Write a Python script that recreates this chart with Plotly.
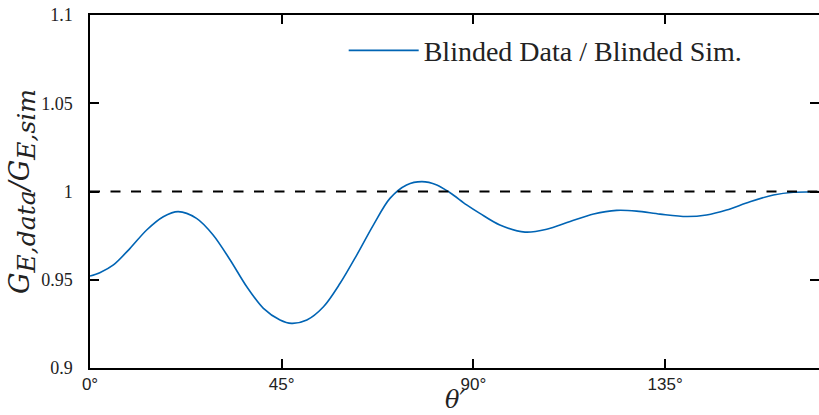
import plotly.graph_objects as go

# Data
theta_deg = [0, 2.3, 5.5, 9.4, 13.3, 17.2, 20.7, 25.0, 28.9, 32.9, 36.8, 40.7, 44.6,
             47.3, 50.9, 54.8, 58.7, 62.6, 66.5, 70.4, 74.3, 77.9, 81.4, 84.5, 88.4,
             91.5, 96.2, 102.1, 107.2, 112.7, 118.2, 123.6, 128.3, 133.8, 140.0,
             144.7, 149.4, 154.9, 160.4, 165.1, 170.6, 171.1]
ratio = [0.9521, 0.9540, 0.9584, 0.9678, 0.9782, 0.9857, 0.9886, 0.9848, 0.9754,
         0.9612, 0.9460, 0.9338, 0.9272, 0.9253, 0.9272, 0.9347, 0.9480, 0.9640,
         0.9810, 0.9961, 1.0037, 1.0056, 1.0037, 0.9993, 0.9924, 0.9876, 0.9810,
         0.9770, 0.9786, 0.9830, 0.9872, 0.9893, 0.9889, 0.9872, 0.9858, 0.9867,
         0.9895, 0.9942, 0.9980, 0.9996, 0.9998, 1.0000]
ref_x = [0, 171.1]
ref_y = [1.0, 1.0]

x_tickvals = [0, 45, 90, 135]
x_ticktext = ["0°", "45°", "90°", "135°"]
y_tickvals = [0.9, 0.95, 1.0, 1.05, 1.1]
y_ticktext = ["0.9", "0.95", "1", "1.05", "1.1"]
x_range = [0, 171.1]
y_range = [0.9, 1.1]
x_title = "<i>θ′</i>"

SERIF = "Liberation Serif, DejaVu Serif, serif"
MATH = "DejaVu Serif, Liberation Serif, serif"
SANS = "Liberation Sans, Arial, sans-serif"

fig = go.Figure()
# reference line drawn on the overlay y-axis (same range) so that the right-side ticks render
fig.add_trace(go.Scatter(x=ref_x, y=ref_y, mode="lines", xaxis="x", yaxis="y2",
                         line=dict(color="black", width=2, dash="10px,10.5px"),
                         showlegend=False, hoverinfo="skip"))
fig.add_trace(go.Scatter(x=theta_deg, y=ratio, mode="lines", line_shape="spline",
                         line=dict(color="#0064b4", width=1.6, smoothing=0.9),
                         name="Blinded Data / Blinded Sim."))

axis_common = dict(showgrid=False, zeroline=False, linecolor="black", linewidth=1.5,
                   ticks="inside", ticklen=9, tickwidth=1.5, tickcolor="black",
                   automargin=False)

ytitle = ("<i>G</i><sub><span style='font-size:25px'><i>E,data</i></span></sub>"
          "<i>/</i><i>G</i><sub><span style='font-size:25px'><i>E,sim</i></span></sub>")

fig.update_layout(
    width=819, height=415,
    margin=dict(l=90, r=0, t=15, b=47),
    paper_bgcolor="white", plot_bgcolor="white",
    showlegend=True,
    legend=dict(x=0.348, y=0.899, xanchor="left", yanchor="middle",
                font=dict(family=SERIF, size=28, color="#222"),
                bgcolor="rgba(0,0,0,0)", itemwidth=70),
    xaxis=dict(range=x_range, tickvals=x_tickvals, ticktext=x_ticktext,
               tickfont=dict(family=SANS, size=17, color="#222"),
               showline=True, mirror="ticks",
               **axis_common),
    yaxis=dict(range=y_range, tickvals=y_tickvals, ticktext=y_ticktext,
               tickfont=dict(family=SERIF, size=18, color="#222"),
               showline=True, ticklabelstandoff=12,
               title=dict(text=ytitle,
                          font=dict(family=MATH, size=27, color="#222"), standoff=2),
               **axis_common),
    yaxis2=dict(range=y_range, overlaying="y", side="right", anchor="x",
                tickvals=y_tickvals, showticklabels=False, showline=False,
                **axis_common),
    annotations=[dict(text=x_title, xref="paper", yref="paper", x=0.5, y=-0.092,
                      xanchor="center", yanchor="middle", showarrow=False,
                      font=dict(family=MATH, size=24, color="#222"))],
)

fig.write_html("out.html",
               config={"displayModeBar": False},
               post_script="document.body.style.margin='0';document.body.style.overflow='hidden';")
